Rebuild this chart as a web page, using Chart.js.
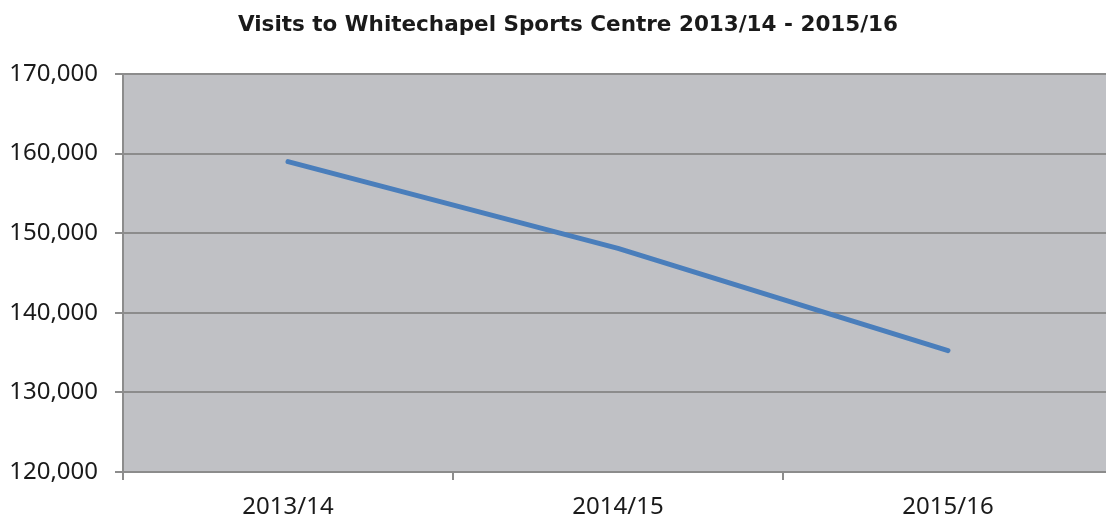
<!DOCTYPE html>
<html>
<head>
<meta charset="utf-8">
<script src="https://cdn.jsdelivr.net/npm/chart.js@4/dist/chart.umd.min.js"></script>
<style>
html,body{margin:0;padding:0;background:#fff;overflow:hidden;width:1106px;height:521px;}
canvas{display:block;margin-left:-20px;}
</style>
</head>
<body>
<canvas id="c" width="1176" height="521"></canvas>
<script>
const categories = ["2013/14", "2014/15", "2015/16"];
const visits = [159000, 148100, 135250];
const yTicks = [120000, 130000, 140000, 150000, 160000, 170000];
const chartTitle = "Visits to Whitechapel Sports Centre 2013/14 - 2015/16";

const bgPlugin = {
  id: 'plotBg',
  beforeDraw(chart) {
    const {ctx, chartArea: a} = chart;
    ctx.save();
    ctx.fillStyle = '#c0c1c5';
    ctx.fillRect(a.left, a.top, a.right - a.left, a.bottom - a.top);
    ctx.restore();
  }
};

new Chart(document.getElementById('c'), {
  type: 'line',
  data: {
    labels: categories,
    datasets: [{
      data: visits,
      yAxisID: 'y',
      borderColor: '#4a7ebb',
      borderWidth: 5,
      borderCapStyle: 'round',
      borderJoinStyle: 'round',
      pointRadius: 0,
      tension: 0,
      fill: false
    }]
  },
  options: {
    responsive: false,
    animation: false,
    layout: { padding: { left: 0, right: 0, top: 0, bottom: 0 } },
    plugins: {
      legend: { display: false },
      tooltip: { enabled: false },
      title: {
        display: true,
        text: chartTitle,
        color: '#1a1a1a',
        font: { family: 'DejaVu Sans', size: 21.5, weight: 'bold', lineHeight: 1.2 },
        padding: { top: 13, bottom: 35.2 }
      }
    },
    scales: {
      x: {
        type: 'category',
        offset: true,
        afterFit(s) { s.height = 49; },
        border: { display: true, color: '#8c8c8c', width: 2 },
        grid: { offset: true, drawOnChartArea: false, drawTicks: true, tickLength: 8, color: '#8c8c8c', lineWidth: 2 },
        ticks: { color: '#1a1a1a', font: { family: 'Noto Sans', size: 24 }, padding: 13 }
      },
      y: {
        position: 'left',
        min: 120000,
        max: 170000,
        afterFit(s) { s.width = 143; },
        afterBuildTicks(s) { s.ticks = yTicks.map(v => ({ value: v })); },
        border: { display: true, color: '#8c8c8c', width: 2 },
        grid: { color: '#8c8c8c', lineWidth: 2, tickLength: 8, drawTicks: true },
        ticks: {
          color: '#1a1a1a',
          font: { family: 'Noto Sans', size: 24 },
          padding: 17,
          callback: v => v.toLocaleString('en-US')
        }
      },
      yRight: {
        position: 'right',
        display: true,
        min: 0,
        max: 1,
        afterFit(s) { s.width = 43; },
        border: { display: false },
        grid: { display: false, drawTicks: false },
        ticks: { display: false }
      }
    }
  },
  plugins: [bgPlugin]
});
</script>
</body>
</html>
